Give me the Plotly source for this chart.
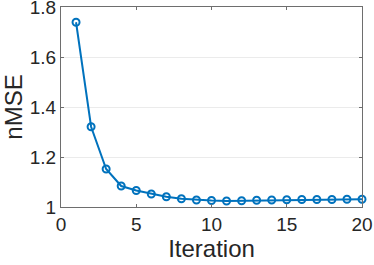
import plotly.graph_objects as go

iterations = list(range(1, 21))
nmse = [1.739, 1.321, 1.152, 1.084, 1.066, 1.052, 1.041, 1.033, 1.028, 1.026,
        1.024, 1.025, 1.027, 1.028, 1.029, 1.030, 1.030, 1.030, 1.031, 1.031]
x_ticks = [0, 5, 10, 15, 20]
y_ticks = [1.0, 1.2, 1.4, 1.6, 1.8]
y_tick_labels = ["1", "1.2", "1.4", "1.6", "1.8"]

font_family = "Liberation Sans, Arial"
fig = go.Figure()
fig.add_trace(go.Scatter(
    x=iterations, y=nmse, mode="lines+markers",
    line=dict(color="#0072BD", width=2),
    marker=dict(symbol="circle-open", size=7, color="#0072BD", line=dict(width=2)),
    showlegend=False, cliponaxis=False,
))

axis_common = dict(
    showline=True, linecolor="#6e6e6e", linewidth=1, mirror="ticks",
    ticks="inside", ticklen=3, tickcolor="#6e6e6e", tickwidth=1,
    tickfont=dict(family=font_family, size=19, color="#262626"),
    zeroline=False, automargin=False, ticklabeloverflow="allow",
)
fig.update_xaxes(range=[0, 20], tickvals=x_ticks, showgrid=False,
                 title=dict(text="Iteration", font=dict(family=font_family, size=24, color="#262626"), standoff=5),
                 **axis_common)
fig.update_yaxes(range=[1.0, 1.8], tickvals=y_ticks, ticktext=y_tick_labels,
                 showgrid=True, gridcolor="#ebebeb", gridwidth=1,
                 title=dict(text="nMSE", font=dict(family=font_family, size=24, color="#262626"), standoff=9),
                 **axis_common)
fig.update_layout(
    width=374, height=265, autosize=False,
    margin=dict(l=61, r=12, t=7, b=58, autoexpand=False),
    plot_bgcolor="white", paper_bgcolor="white",
)
fig.write_html("out.html", config={"displayModeBar": False},
               post_script="document.body.style.margin='0';document.body.style.overflow='hidden';")
